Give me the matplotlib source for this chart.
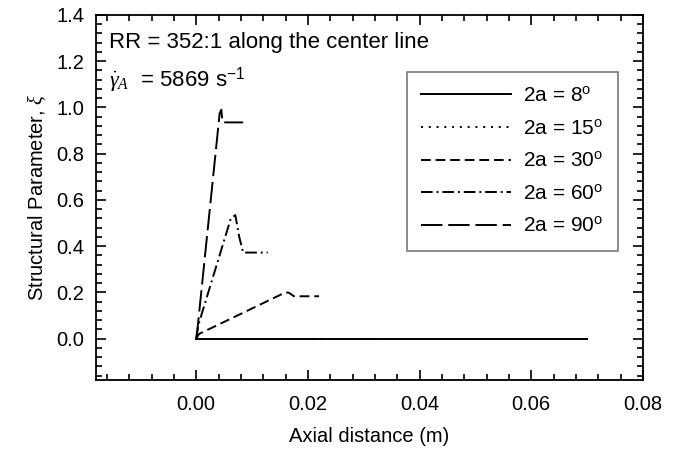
import numpy as np
import matplotlib
matplotlib.use("Agg")
import matplotlib.pyplot as plt
from matplotlib.ticker import MultipleLocator

plt.rcParams['font.family'] = ['Liberation Sans', 'DejaVu Sans']
plt.rcParams['mathtext.fontset'] = 'custom'
plt.rcParams['mathtext.rm'] = 'Liberation Sans'
plt.rcParams['mathtext.it'] = 'Liberation Serif:italic'

# data
labels = ["2a = 8$^{\\rm o}$", "2a = 15$^{\\rm o}$", "2a = 30$^{\\rm o}$",
          "2a = 60$^{\\rm o}$", "2a = 90$^{\\rm o}$"]

x8 = [0.0, 0.07]
y8 = [0.0, 0.0]

x15 = [0.0, 0.038]
y15 = [0.0, 0.0]

x30 = [0.0, 0.0005, 0.0160, 0.0166, 0.0175, 0.0220]
y30 = [0.0, 0.02, 0.20, 0.198, 0.183, 0.183]

x60 = [0.0, 0.0004, 0.0062, 0.0070, 0.0077, 0.0084, 0.0128]
y60 = [0.0, 0.06, 0.52, 0.534, 0.44, 0.372, 0.372]

x90 = [0.0, 0.0003, 0.0042, 0.0045, 0.0047, 0.0084]
y90 = [0.0, 0.06, 0.975, 0.99, 0.935, 0.935]

series = [(x8, y8, '-'), (x15, y15, (0, (1, 3))), (x30, y30, (0, (5, 2.5))),
          (x60, y60, (0, (6, 2, 1, 2))), (x90, y90, (0, (11, 3)))]

fig = plt.figure(figsize=(6.74, 4.51), dpi=100)
ax = fig.add_axes([0.142, 0.157, 0.812, 0.810])

for (xs, ys, ls), lab in zip(series, labels):
    ax.plot(xs, ys, color='black', linestyle=ls, linewidth=1.4, label=lab)

ax.set_xlim(-0.018, 0.08)
ax.set_ylim(-0.18, 1.4)
ax.xaxis.set_minor_locator(MultipleLocator(0.004))
ax.yaxis.set_minor_locator(MultipleLocator(0.04))
ax.set_xticks([0.0, 0.02, 0.04, 0.06, 0.08])
ax.set_yticks([0.0, 0.2, 0.4, 0.6, 0.8, 1.0, 1.2, 1.4])
ax.xaxis.set_major_formatter(plt.FormatStrFormatter('%.2f'))
ax.yaxis.set_major_formatter(plt.FormatStrFormatter('%.1f'))
ax.tick_params(which='both', direction='in', top=True, right=True,
               labelsize=14.5, colors='black', width=1.2, pad=8)
ax.tick_params(which='major', length=7)
ax.tick_params(which='minor', length=4)
ax.tick_params(axis='x', pad=11)
for s in ax.spines.values():
    s.set_linewidth(1.3)

ax.set_xlabel("Axial distance (m)", fontsize=14.5, labelpad=9)
ax.set_ylabel("Structural Parameter, $\\xi$", fontsize=14.5, labelpad=6)

ax.text(0.025, 0.925, "RR = 352:1 along the center line", transform=ax.transAxes,
        fontsize=16, va='center', ha='left')
ax.text(0.025, 0.82, "$\\dot{\\gamma}_A$  = 5869 s$^{-1}$", transform=ax.transAxes,
        fontsize=16, va='center', ha='left')

leg = ax.legend(loc='upper left', bbox_to_anchor=(406.7 / 674, 1 - 71.7 / 451),
                bbox_transform=fig.transFigure, borderaxespad=0, fontsize=15,
                handlelength=4.3, handletextpad=0.6, labelspacing=0.64,
                fancybox=False, frameon=True, borderpad=0.7)
leg.get_frame().set_edgecolor('#555555')
leg.get_frame().set_linewidth(1.2)

fig.savefig("out.png", dpi=100)
